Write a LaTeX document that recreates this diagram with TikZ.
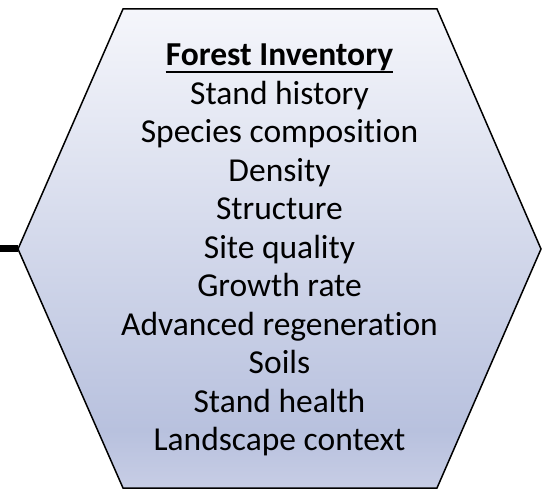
\documentclass[tikz,border=0pt]{standalone}
\usepackage{fontspec}
\setmainfont{Carlito}[Ligatures=NoCommon]
\definecolor{hextop}{HTML}{F5F6FB}
\definecolor{hexlow}{HTML}{B8C1DE}
\definecolor{hexbot}{HTML}{C7CDE5}
\pgfdeclareverticalshading{hexfill}{100bp}{color(0bp)=(hexbot); color(25bp)=(hexbot); color(31bp)=(hexlow); color(75bp)=(hextop); color(100bp)=(hextop)}
\tikzset{
    itemtext/.style={inner sep=0pt, anchor=base, font=\fontsize{33.5}{38.5}\selectfont}
}
\begin{document}
\begin{tikzpicture}[x=1pt,y=1pt]

    \def\cx{279.5}
    \def\ytop{424}
    \def\lsep{38.47}
    \useasboundingbox (0,0) rectangle (551,490);

    %Hexagono
    \coordinate (hexNW) at (123,481);
    \coordinate (hexNE) at (437,481);
    \coordinate (hexE) at (541,241);
    \coordinate (hexSE) at (437,2);
    \coordinate (hexSW) at (123,2);
    \coordinate (hexW) at (18,241);
    \coordinate (stub) at (0,241);

    \draw[line width=1.5pt, shading=hexfill, line join=miter]
        (hexNW) -- (hexNE) -- (hexE) -- (hexSE) -- (hexSW) -- (hexW) -- cycle;
    \draw[line width=7pt] (stub) -- (hexW);

    %Titulo
    \node[itemtext, font=\fontsize{33.5}{38.5}\selectfont\bfseries] (title) at (\cx,\ytop) {Forest Inventory};
    \draw[line width=2pt] ([yshift=-5.7pt]title.base west) -- ([yshift=-5.7pt]title.base east);

    %Lista
    \foreach \t [count=\i, evaluate={\y=\ytop-\i*\lsep}] in {Stand history,Species composition,Density,Structure,Site quality,Growth rate,Advanced regeneration,Soils,Stand health,Landscape context}{
        \node[itemtext] (item\i) at (\cx,\y) {\t};
    }

\end{tikzpicture}
\end{document}
